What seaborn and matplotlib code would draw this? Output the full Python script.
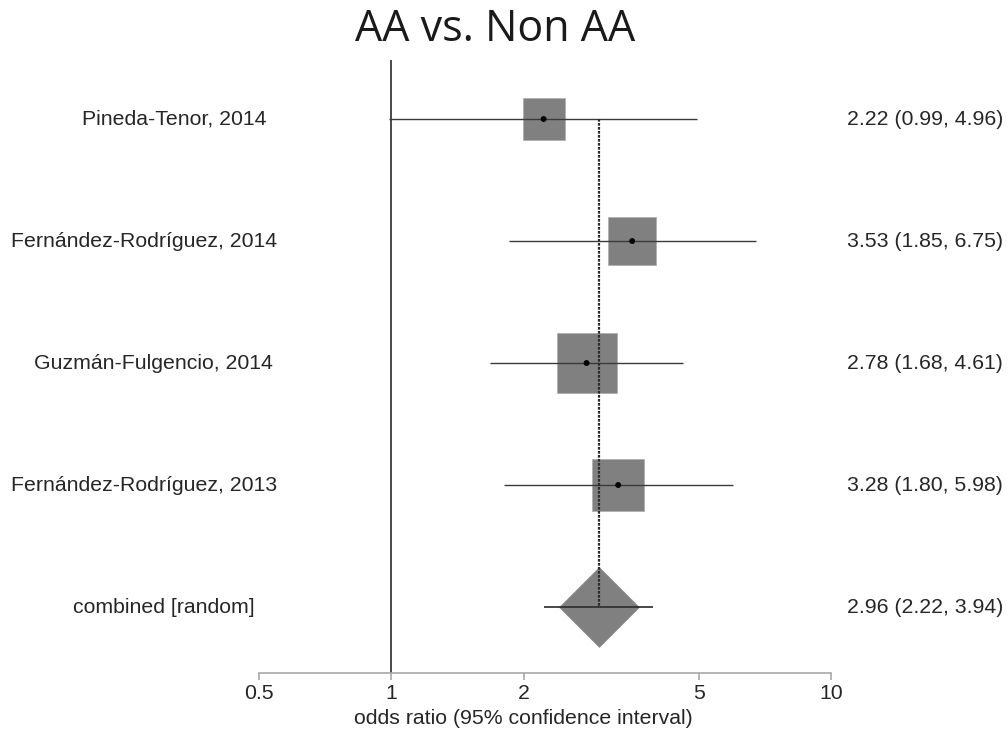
import numpy as np
import pandas as pd
import seaborn as sns
import matplotlib
matplotlib.use("Agg")
import matplotlib.pyplot as plt
from matplotlib.transforms import blended_transform_factory

# Study-level odds ratios with 95% confidence intervals
studies = ["Pineda-Tenor, 2014", "Fernández-Rodríguez, 2014",
           "Guzmán-Fulgencio, 2014", "Fernández-Rodríguez, 2013"]
odds_ratio = [2.22, 3.53, 2.78, 3.28]
ci_low = [0.99, 1.85, 1.68, 1.80]
ci_high = [4.96, 6.75, 4.61, 5.98]
weights = [16.5, 22.6, 35.3, 25.5]  # random-effects weights (%)

# Pooled estimate
pooled_label = "combined [random]"
pooled_or = 2.96
pooled_low = 2.22
pooled_high = 3.94

x_ticks = [0.5, 1, 2, 5, 10]
x_tick_labels = ["0.5", "1", "2", "5", "10"]

sns.set_theme(style="white")
plt.rcParams["font.family"] = ["Liberation Sans", "DejaVu Sans"]

FS = 15.3

fig = plt.figure(figsize=(10.08, 7.31), dpi=100)
ax = fig.add_axes([259 / 1008, 58 / 731, 572 / 1008, 613 / 731])

df = pd.DataFrame({"study": studies, "or": odds_ratio, "lo": ci_low,
                   "hi": ci_high, "w": weights})
df["row"] = np.arange(len(df))
pooled_row = len(df)

# reference line at OR = 1 and pooled-estimate line
ax.axvline(1, color="#2b2b2b", lw=1.2, zorder=1)
ax.vlines(pooled_or, 0, pooled_row, color="#2b2b2b", lw=1.6,
          linestyles=(0, (1.2, 0.6)), zorder=4)

# weight-scaled squares
side_pt = 7.3 * np.sqrt(df["w"].values)
for r, o, s in zip(df["row"], df["or"], side_pt):
    ax.plot(o, r, marker="s", markersize=s, color="#808080",
            markeredgecolor="#b0b0b0", markeredgewidth=0.6, zorder=2)

# confidence intervals
ax.hlines(df["row"], df["lo"], df["hi"], color="#3a3a3a", lw=1.0, zorder=3)
sns.scatterplot(data=df, x="or", y="row", ax=ax, color="black", s=18,
                edgecolor="none", zorder=5, legend=False)

# pooled diamond
ax.plot(pooled_or, pooled_row, marker="D", markersize=41, color="#808080",
        markeredgecolor="#909090", markeredgewidth=0.5, zorder=3.5)
ax.hlines(pooled_row, pooled_low, pooled_high, color="#2b2b2b", lw=1.2, zorder=4.5)

ax.set_xscale("log")
ax.set_xlim(0.5, 10)
ax.set_ylim(4.541, -0.484)
ax.set_xticks(x_ticks)
ax.set_xticklabels(x_tick_labels)
ax.xaxis.set_minor_locator(matplotlib.ticker.NullLocator())
ax.set_yticks([])
ax.set_xlabel("")
ax.set_ylabel("")
for side in ["top", "right", "left"]:
    ax.spines[side].set_visible(False)
ax.spines["bottom"].set_color("#a8a8a8")
ax.spines["bottom"].set_linewidth(1.2)
ax.tick_params(axis="x", direction="out", length=5, width=1.2, color="#a8a8a8",
               labelsize=FS, pad=3, bottom=True)
ax.patch.set_alpha(0)

# row labels and effect-size text
tr = blended_transform_factory(fig.transFigure, ax.transData)
names = list(df["study"]) + [pooled_label]
stats = [f"{o:.2f} ({l:.2f}, {h:.2f})" for o, l, h in zip(odds_ratio, ci_low, ci_high)]
stats.append(f"{pooled_or:.2f} ({pooled_low:.2f}, {pooled_high:.2f})")
name_x = [174, 144.5, 153.5, 144.5, 164]  # label centres, px
for i, (n, s) in enumerate(zip(names, stats)):
    ax.text(name_x[i] / 1008, i, n, transform=tr, ha="center", va="center",
            fontsize=FS)
    ax.text(847 / 1008, i, s, transform=tr, ha="left", va="center", fontsize=FS)

fig.text(523 / 1008, 13 / 731, "odds ratio (95% confidence interval)",
         ha="center", va="center", fontsize=FS)
fig.text(495 / 1008, 1 - 30 / 731, "AA vs. Non AA", ha="center", va="center",
         fontsize=31, family=["Open Sans", "DejaVu Sans"], color="#1a1a1a")

fig.savefig("out.png", dpi=100, facecolor="white")
